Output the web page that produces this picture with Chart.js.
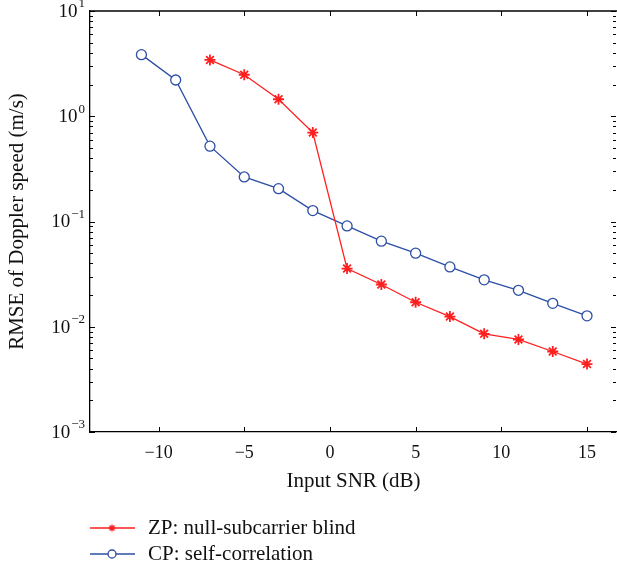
<!DOCTYPE html>
<html>
<head>
<meta charset="utf-8">
<script src="https://cdn.jsdelivr.net/npm/chart.js@4/dist/chart.umd.min.js"></script>
<style>
  html, body { margin: 0; padding: 0; background: #fff; overflow: hidden; }
  #wrap { width: 617px; height: 571px; }
</style>
</head>
<body>
<div id="wrap"><canvas id="rmseChart" width="617" height="571"></canvas></div>
<script>
// ======================
// Data
// ======================
const snrZP = [-7, -5, -3, -1, 1, 3, 5, 7, 9, 11, 13, 15];
const rmseZP = [3.43, 2.48, 1.45, 0.70, 0.0357, 0.0252, 0.0171, 0.0125, 0.00857, 0.00757, 0.00582, 0.00442];

const snrCP = [-11, -9, -7, -5, -3, -1, 1, 3, 5, 7, 9, 11, 13, 15];
const rmseCP = [3.85, 2.21, 0.52, 0.265, 0.205, 0.127, 0.0908, 0.065, 0.050, 0.037, 0.0279, 0.0222, 0.0167, 0.0127];

const xTicks = [-10, -5, 0, 5, 10, 15];
const yExponents = [-3, -2, -1, 0, 1];
const seriesNames = ["ZP: null-subcarrier blind", "CP: self-correlation"];

const FONT = '"Liberation Serif", "Times New Roman", serif';
const RED = "#ff1f1f";
const BLUE = "#2c4ea6";

function minusSign(n) {
  return n < 0 ? "\u2212" + Math.abs(n) : String(n);
}

function drawMarker(ctx, style, cx, cy, r) {
  ctx.beginPath();
  if (style === "star") {
    const d = r * Math.SQRT1_2;
    ctx.moveTo(cx - r, cy); ctx.lineTo(cx + r, cy);
    ctx.moveTo(cx, cy - r); ctx.lineTo(cx, cy + r);
    ctx.moveTo(cx - d, cy - d); ctx.lineTo(cx + d, cy + d);
    ctx.moveTo(cx - d, cy + d); ctx.lineTo(cx + d, cy - d);
    ctx.stroke();
  } else {
    ctx.arc(cx, cy, r, 0, Math.PI * 2);
    ctx.fillStyle = "#fff";
    ctx.fill();
    ctx.stroke();
  }
}

// top border, inward ticks, log labels
const axisDecor = {
  id: "axisDecor",
  afterDraw(chart) {
    const { ctx, chartArea: a, scales: { x, y } } = chart;
    ctx.save();
    ctx.strokeStyle = "#000";
    ctx.lineWidth = 1.3;
    ctx.beginPath();
    ctx.moveTo(a.left, a.top);
    ctx.lineTo(a.right, a.top);
    ctx.stroke();

    ctx.lineWidth = 1;
    ctx.beginPath();
    xTicks.forEach(v => {
      const px = Math.round(x.getPixelForValue(v)) + 0.5;
      ctx.moveTo(px, a.bottom); ctx.lineTo(px, a.bottom - 5);
      ctx.moveTo(px, a.top); ctx.lineTo(px, a.top + 5);
    });
    const eMin = yExponents[0], eMax = yExponents[yExponents.length - 1];
    for (let e = eMin; e <= eMax; e++) {
      for (let m = 1; m <= 9; m++) {
        if (e === eMax && m > 1) break;
        const py = Math.round(y.getPixelForValue(m * Math.pow(10, e))) + 0.5;
        const len = m === 1 ? 5 : 3;
        ctx.moveTo(a.left, py); ctx.lineTo(a.left + len, py);
        ctx.moveTo(a.right - 1, py); ctx.lineTo(a.right - 1 - len, py);
      }
    }
    ctx.stroke();

    ctx.fillStyle = "#111";
    ctx.textBaseline = "middle";
    ctx.textAlign = "left";
    yExponents.forEach(e => {
      const py = y.getPixelForValue(Math.pow(10, e));
      const expTxt = minusSign(e);
      ctx.font = "13px " + FONT;
      const wExp = ctx.measureText(expTxt).width;
      ctx.font = "19px " + FONT;
      const wBase = ctx.measureText("10").width;
      const right = 85;
      ctx.fillText("10", right - wExp - wBase - 1, py + 1);
      ctx.font = "13px " + FONT;
      ctx.fillText(expTxt, right - wExp, py - 7);
    });
    ctx.restore();
  }
};

// legend in two rows under the axis title
const lineLegend = {
  id: "lineLegend",
  afterDraw(chart) {
    const { ctx } = chart;
    const rows = [
      { name: seriesNames[0], color: RED, style: "star", r: 3.5, y: 528 },
      { name: seriesNames[1], color: BLUE, style: "circle", r: 4, y: 554 }
    ];
    ctx.save();
    rows.forEach(row => {
      ctx.strokeStyle = row.color;
      ctx.lineWidth = 1.3;
      ctx.beginPath();
      ctx.moveTo(90, row.y); ctx.lineTo(135, row.y);
      ctx.stroke();
      drawMarker(ctx, row.style, 112, row.y, row.r);
      ctx.fillStyle = "#111";
      ctx.font = "21px " + FONT;
      ctx.textBaseline = "middle";
      ctx.textAlign = "left";
      ctx.fillText(row.name, 148, row.y);
    });
    ctx.restore();
  }
};

function carregarGrafico() {
  const ctx = document.getElementById("rmseChart").getContext("2d");

  new Chart(ctx, {
    type: "line",
    data: {
      datasets: [
        {
          label: seriesNames[0],
          data: snrZP.map((v, i) => ({ x: v, y: rmseZP[i] })),
          borderColor: RED,
          borderWidth: 1.3,
          pointStyle: "star",
          pointRadius: 5.5,
          pointBorderWidth: 1.8,
          pointBorderColor: RED,
          pointBackgroundColor: RED,
          tension: 0,
          fill: false
        },
        {
          label: seriesNames[1],
          data: snrCP.map((v, i) => ({ x: v, y: rmseCP[i] })),
          borderColor: BLUE,
          borderWidth: 1.3,
          pointStyle: "circle",
          pointRadius: 5,
          pointBorderWidth: 1.3,
          pointBorderColor: BLUE,
          pointBackgroundColor: "#fff",
          tension: 0,
          fill: false
        }
      ]
    },
    options: {
      responsive: false,
      animation: false,
      layout: { autoPadding: false, padding: { top: 11, right: 0, bottom: 71, left: 0 } },
      plugins: {
        legend: { display: false },
        tooltip: { enabled: false }
      },
      scales: {
        x: {
          type: "linear",
          min: -14,
          max: 16.75,
          afterBuildTicks: s => { s.ticks = xTicks.map(v => ({ value: v })); },
          afterFit: s => { s.height = 68; s.paddingLeft = 0; s.paddingRight = 0; },
          grid: { display: false, drawTicks: false },
          border: { display: true, color: "#000", width: 1.3 },
          ticks: {
            padding: 10,
            color: "#111",
            maxRotation: 0,
            font: { family: FONT, size: 18 },
            callback: v => minusSign(v)
          },
          title: {
            display: true,
            text: "Input SNR (dB)",
            color: "#111",
            font: { family: FONT, size: 21 },
            padding: { top: 0, bottom: 6 }
          }
        },
        y: {
          type: "logarithmic",
          min: 0.001,
          max: 10,
          afterFit: s => { s.width = 90; },
          grid: { display: false, drawTicks: false },
          border: { display: true, color: "#000", width: 1.3 },
          ticks: { display: false },
          title: {
            display: true,
            text: "RMSE of Doppler speed (m/s)",
            color: "#111",
            font: { family: FONT, size: 21 },
            padding: { top: 5, bottom: 0 }
          }
        }
      }
    },
    plugins: [axisDecor, lineLegend]
  });
}

document.addEventListener("DOMContentLoaded", carregarGrafico);
</script>
</body>
</html>
